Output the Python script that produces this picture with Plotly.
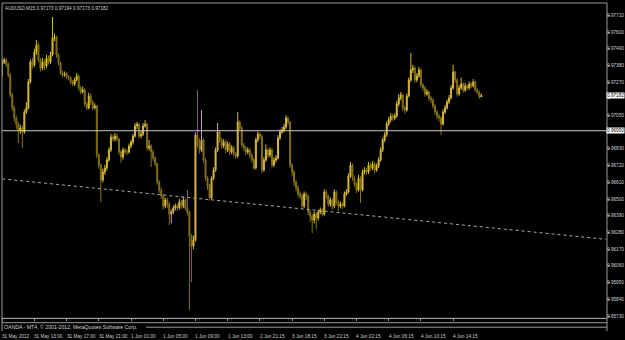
import plotly.graph_objects as go

# AUDUSD M15 (OANDA MT4), values in points (1 point = 0.00001)
open_pts = [
97390, 97403, 97416, 97389, 97317, 97185, 97100, 97034, 96994, 96955,
96968, 96942, 97073, 97100, 97271, 97403, 97383, 97468, 97515, 97416,
97363, 97403, 97376, 97429, 97403, 97449, 97561, 97567, 97449, 97396,
97330, 97317, 97324, 97304, 97297, 97271, 97258, 97284, 97310, 97231,
97205, 97218, 97126, 97100, 97179, 97139, 97100, 97113, 96790, 96724,
96625, 96678, 96704, 96757, 96823, 96909, 96895, 96915, 96895, 96810,
96777, 96823, 96810, 96810, 96849, 96876, 96915, 96981, 96994, 96915,
96928, 96981, 96994, 96836, 96849, 96810, 96770, 96731, 96612, 96559,
96520, 96454, 96494, 96467, 96401, 96415, 96441, 96454, 96441, 96480,
96454, 96494, 96441, 96415, 96256, 96191, 96230, 96922, 96856, 96823,
96889, 96757, 96638, 96586, 96507, 96638, 96691, 96823, 96942, 96889,
96849, 96876, 96823, 96862, 96810, 96836, 96797, 96783, 97007, 96968,
96856, 96836, 96810, 96823, 96790, 96757, 96704, 96889, 96928, 96915,
96691, 96757, 96823, 96790, 96823, 96724, 96757, 96770, 96902, 96942,
96955, 96974, 97034, 97007, 96724, 96678, 96612, 96573, 96533, 96520,
96454, 96533, 96520, 96415, 96388, 96362, 96401, 96375, 96415, 96428,
96401, 96546, 96520, 96467, 96494, 96454, 96546, 96480, 96454, 96467,
96454, 96533, 96546, 96652, 96724, 96638, 96599, 96559, 96638, 96559,
96678, 96691, 96678, 96724, 96704, 96731, 96691, 96718, 96757, 96823,
96889, 96922, 96994, 97021, 97047, 97034, 97047, 97126, 97165, 97185,
97100, 97086, 97179, 97284, 97350, 97363, 97284, 97310, 97350, 97251,
97231, 97192, 97205, 97165, 97152, 97113, 97073, 97047, 97034, 96994,
97073, 97100, 97139, 97165, 97231, 97337, 97284, 97192, 97231, 97258,
97218, 97245, 97231, 97258, 97245, 97271, 97218, 97205, 97173,
]
high_pts = [
97420, 97430, 97428, 97400, 97330, 97200, 97115, 97050, 97010, 96990,
96985, 97090, 97140, 97290, 97420, 97430, 97490, 97547, 97530, 97430,
97430, 97420, 97450, 97445, 97470, 97699, 97590, 97575, 97460, 97405,
97345, 97340, 97335, 97315, 97310, 97285, 97300, 97330, 97320, 97245,
97240, 97230, 97140, 97200, 97195, 97150, 97130, 97120, 96800, 96735,
96700, 96725, 96775, 96840, 96930, 96925, 96935, 96930, 96905, 96825,
96840, 96835, 96830, 96865, 96890, 96930, 97000, 97010, 97000, 96950,
97000, 97020, 97000, 96889, 96860, 96825, 96780, 96740, 96625, 96575,
96535, 96510, 96510, 96480, 96430, 96460, 96470, 96470, 96500, 96495,
96515, 96505, 96560, 96425, 96270, 96260, 96940, 97218, 96900, 97086,
96900, 96770, 96650, 96600, 96650, 96710, 96840, 97001, 96955, 96905,
96895, 96890, 96880, 96875, 96855, 96850, 96810, 97073, 97020, 96980,
96870, 96850, 96840, 96835, 96800, 96770, 96905, 96945, 96940, 96925,
96775, 96860, 96835, 96840, 96835, 96775, 96790, 96920, 96960, 96975,
96995, 97053, 97045, 97015, 96735, 96690, 96625, 96590, 96550, 96535,
96550, 96545, 96530, 96430, 96400, 96420, 96415, 96430, 96445, 96440,
96565, 96560, 96530, 96510, 96505, 96565, 96555, 96495, 96485, 96480,
96550, 96565, 96670, 96745, 96735, 96650, 96610, 96660, 96650, 96695,
96710, 96705, 96745, 96740, 96750, 96745, 96735, 96775, 96840, 96905,
96940, 97010, 97040, 97065, 97060, 97065, 97145, 97190, 97205, 97195,
97115, 97195, 97300, 97462, 97385, 97375, 97330, 97370, 97360, 97265,
97245, 97225, 97215, 97180, 97165, 97125, 97085, 97060, 97045, 97090,
97120, 97155, 97185, 97250, 97383, 97345, 97295, 97250, 97300, 97270,
97265, 97255, 97275, 97270, 97290, 97280, 97230, 97215, 97194,
]
low_pts = [
97304, 97390, 97370, 97300, 97170, 97080, 97010, 96960, 96869, 96930,
96836, 96930, 97060, 97090, 97260, 97360, 97370, 97450, 97400, 97340,
97350, 97350, 97360, 97385, 97390, 97440, 97540, 97430, 97380, 97315,
97300, 97305, 97290, 97280, 97255, 97245, 97245, 97275, 97215, 97190,
97195, 97110, 97085, 97090, 97120, 97085, 97090, 96770, 96700, 96480,
96610, 96660, 96690, 96745, 96810, 96880, 96880, 96880, 96790, 96740,
96760, 96795, 96790, 96800, 96835, 96860, 96905, 96960, 96900, 96900,
96915, 96970, 96820, 96820, 96711, 96750, 96715, 96595, 96540, 96500,
96430, 96440, 96440, 96329, 96340, 96400, 96425, 96420, 96430, 96435,
96440, 96425, 96395, 95769, 95953, 96170, 96220, 96840, 96800, 96810,
96740, 96620, 96560, 96490, 96495, 96625, 96680, 96810, 96870, 96830,
96835, 96800, 96810, 96790, 96795, 96780, 96765, 96770, 96950, 96840,
96815, 96790, 96795, 96770, 96740, 96690, 96695, 96875, 96895, 96670,
96680, 96745, 96770, 96775, 96705, 96710, 96740, 96760, 96890, 96930,
96940, 96960, 96990, 96705, 96650, 96585, 96550, 96510, 96500, 96435,
96440, 96495, 96395, 96350, 96276, 96340, 96300, 96360, 96400, 96385,
96390, 96500, 96450, 96450, 96430, 96440, 96465, 96420, 96440, 96435,
96445, 96520, 96535, 96640, 96620, 96580, 96540, 96550, 96474, 96550,
96665, 96660, 96665, 96690, 96690, 96670, 96680, 96705, 96745, 96810,
96875, 96910, 96980, 97005, 97015, 97020, 97035, 97110, 97150, 97080,
97060, 97075, 97170, 97270, 97330, 97265, 97270, 97300, 97235, 97210,
97175, 97180, 97145, 97130, 97095, 97055, 97025, 97010, 96922, 96985,
97060, 97090, 97125, 97155, 97220, 97265, 97175, 97180, 97220, 97200,
97205, 97215, 97220, 97230, 97235, 97205, 97190, 97160, 97173,
]
close_pts = [
97403, 97416, 97389, 97317, 97185, 97100, 97034, 96994, 96955, 96968,
96942, 97073, 97100, 97271, 97403, 97383, 97468, 97515, 97416, 97363,
97403, 97376, 97429, 97403, 97449, 97561, 97567, 97449, 97396, 97330,
97317, 97324, 97304, 97297, 97271, 97258, 97284, 97310, 97231, 97205,
97218, 97126, 97100, 97179, 97139, 97100, 97113, 96790, 96724, 96625,
96678, 96704, 96757, 96823, 96909, 96895, 96915, 96895, 96810, 96777,
96823, 96810, 96810, 96849, 96876, 96915, 96981, 96994, 96915, 96928,
96981, 96994, 96836, 96849, 96810, 96770, 96731, 96612, 96559, 96520,
96454, 96494, 96467, 96401, 96415, 96441, 96454, 96441, 96480, 96454,
96494, 96441, 96415, 96256, 96191, 96230, 96922, 96856, 96823, 96889,
96757, 96638, 96586, 96507, 96638, 96691, 96823, 96942, 96889, 96849,
96876, 96823, 96862, 96810, 96836, 96797, 96783, 97007, 96968, 96856,
96836, 96810, 96823, 96790, 96757, 96704, 96889, 96928, 96915, 96691,
96757, 96823, 96790, 96823, 96724, 96757, 96770, 96902, 96942, 96955,
96974, 97034, 97007, 96724, 96678, 96612, 96573, 96533, 96520, 96454,
96533, 96520, 96415, 96388, 96362, 96401, 96375, 96415, 96428, 96401,
96546, 96520, 96467, 96494, 96454, 96546, 96480, 96454, 96467, 96454,
96533, 96546, 96652, 96724, 96638, 96599, 96559, 96638, 96559, 96678,
96691, 96678, 96724, 96704, 96731, 96691, 96718, 96757, 96823, 96889,
96922, 96994, 97021, 97047, 97034, 97047, 97126, 97165, 97185, 97100,
97086, 97179, 97284, 97350, 97363, 97284, 97310, 97350, 97251, 97231,
97192, 97205, 97165, 97152, 97113, 97073, 97047, 97034, 96994, 97073,
97100, 97139, 97165, 97231, 97337, 97284, 97192, 97231, 97258, 97218,
97245, 97231, 97258, 97245, 97271, 97218, 97205, 97173, 97182,
]

time_tick_bars = [0, 16, 32, 48, 64, 80, 96, 112, 128, 144, 160, 176, 192, 208, 224]
time_tick_labels = ["31 May 2012", "31 May 13:00", "31 May 17:00", "31 May 21:00",
                    "1 Jun 01:00", "1 Jun 05:00", "1 Jun 09:00", "1 Jun 13:00",
                    "2 Jun 21:15", "3 Jun 18:15", "3 Jun 22:15", "4 Jun 02:15",
                    "4 Jun 06:15", "4 Jun 10:15", "4 Jun 14:15"]
price_ticks = [0.97710, 0.97600, 0.97490, 0.97380, 0.97270, 0.97160, 0.97050,
               0.96940, 0.96830, 0.96720, 0.96610, 0.96500, 0.96390, 0.96280,
               0.96170, 0.96060, 0.95950, 0.95840, 0.95730]
hline_price = 0.96950
last_price = 0.97182
trend_bars = [0, 300]
trend_prices = [0.96633, 0.96235]
title_text = "AUDUSD,M15 0.97173 0.97194 0.97173 0.97182"
footer_text = "OANDA - MT4, \u00a9 2001-2012, MetaQuotes Software Corp."

P = 1e5
bars = list(range(len(close_pts)))
o = [v / P for v in open_pts]
h = [v / P for v in high_pts]
l = [v / P for v in low_pts]
c = [v / P for v in close_pts]

FG = "#cfcfcf"
GRID = "#9a9a9a"
FONT = "Liberation Sans"
FS = 4.7

W, H = 625, 340
ml, mr, top, bottom = 2, 18, 3, 9
plot_w = W - ml - mr
plot_h = H - top - bottom
def py(px):  # pixel row -> paper y
    return (H - bottom - px) / plot_h
def pxx(px):  # pixel column -> paper x
    return (px - ml) / plot_w
right_edge = (W - ml - 0.5) / plot_w  # paper x of the page's right edge

fig = go.Figure()
fig.add_trace(go.Candlestick(
    x=bars, open=o, high=h, low=l, close=c,
    increasing=dict(line=dict(color="#d6b73a", width=1), fillcolor="#e2c44a"),
    decreasing=dict(line=dict(color="#85711a", width=1), fillcolor="#6e5c0e"),
    whiskerwidth=0, hoverinfo="skip", showlegend=False,
))
fig.add_trace(go.Scatter(
    x=trend_bars, y=trend_prices, mode="lines",
    line=dict(color="#a8a8a8", width=1, dash="dot"),
    hoverinfo="skip", showlegend=False,
))

main_bottom = py(318.3)
fig.add_hline(y=hline_price, line=dict(color="#c8c8c8", width=1))

shapes = [
    dict(type="rect", xref="paper", yref="paper", x0=0, x1=1, y0=main_bottom, y1=1,
         line=dict(color=GRID, width=1)),
    dict(type="line", xref="paper", yref="paper", x0=0, x1=1, y0=py(322.7), y1=py(322.7),
         line=dict(color=GRID, width=1)),
    dict(type="line", xref="paper", yref="paper", x0=pxx(146), x1=1, y0=py(327.2), y1=py(327.2),
         line=dict(color=GRID, width=1)),
    dict(type="line", xref="paper", yref="paper", x0=0, x1=0, y0=0, y1=main_bottom,
         line=dict(color=GRID, width=1)),
    dict(type="line", xref="paper", yref="paper", x0=1, x1=1, y0=0, y1=main_bottom,
         line=dict(color=GRID, width=1)),
]
for s in shapes:
    fig.add_shape(**s)

fig.add_annotation(text=title_text, xref="paper", yref="paper", x=0, y=1,
                   xanchor="left", yanchor="top", xshift=1, yshift=-1, showarrow=False,
                   font=dict(family=FONT, size=FS, color=FG))
fig.add_annotation(text=footer_text, xref="paper", yref="paper", x=0, y=py(326.8),
                   xanchor="left", yanchor="middle", xshift=0, showarrow=False,
                   font=dict(family=FONT, size=5.2, color=FG))

# x-axis time labels, left-aligned at their tick (MetaTrader style)
for b, t in zip(time_tick_bars, time_tick_labels):
    fig.add_annotation(text=t, xref="x", yref="paper", x=b, y=0,
                       xanchor="left", yanchor="top", xshift=-1, yshift=-1.5,
                       showarrow=False, borderpad=0,
                       font=dict(family=FONT, size=FS, color=FG))

# y-axis price labels, right of the axis
covered = {0.97160, 0.96940}
for t in price_ticks:
    if t in covered:
        continue
    fig.add_annotation(text=f"{t:.5f}", xref="paper", yref="y", x=right_edge, y=t,
                       xanchor="right", yanchor="middle", showarrow=False, borderpad=0,
                       font=dict(family=FONT, size=FS, color=FG))
for price in (last_price, hline_price):
    fig.add_annotation(text=f"{price:.5f}", xref="paper", yref="y", x=right_edge, y=price,
                       xanchor="right", yanchor="middle", showarrow=False,
                       bgcolor="#ffffff", borderpad=0,
                       font=dict(family=FONT, size=FS, color="#000000"))

fig.update_layout(
    width=W, height=H,
    margin=dict(l=ml, r=mr, t=top, b=bottom, pad=0),
    paper_bgcolor="#000000", plot_bgcolor="#000000",
    font=dict(family=FONT, size=FS, color=FG),
    xaxis=dict(range=[-0.1, 300.45], rangeslider=dict(visible=False), automargin=False,
               tickmode="array", tickvals=time_tick_bars, showticklabels=False,
               ticks="outside", ticklen=2, tickcolor=GRID,
               showgrid=False, zeroline=False, showline=True, linecolor=GRID, linewidth=1),
    yaxis=dict(domain=[main_bottom, 1], range=[0.95715, 0.97791], side="right",
               automargin=False, tickmode="array", tickvals=price_ticks,
               showticklabels=False, ticks="outside", ticklen=2, tickcolor=GRID,
               showgrid=False, zeroline=False, showline=False),
)
fig.write_html("out.html")
